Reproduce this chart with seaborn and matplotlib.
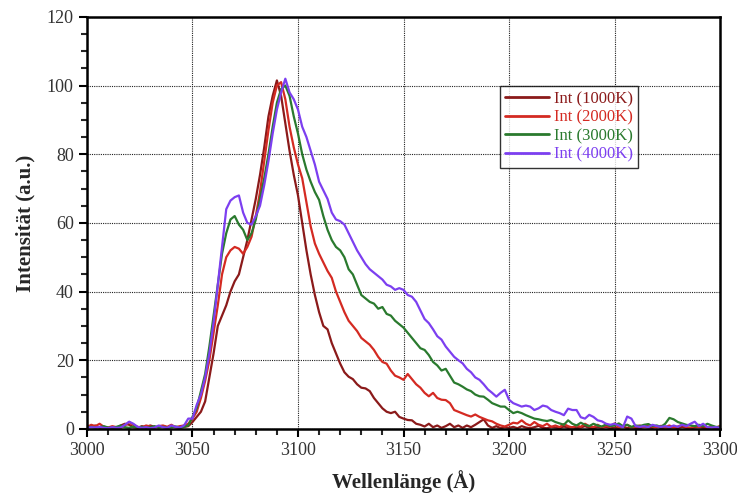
import numpy as np
import pandas as pd
import matplotlib
matplotlib.use("Agg")
import matplotlib.pyplot as plt
from matplotlib.ticker import MultipleLocator
import seaborn as sns

# Wavelength sampling (Å), 2 Å steps from 3000 to 3300
wavelength = np.arange(3000, 3301, 2)

int_1000k = [
    1.0, 0.5, 1.0, 0.3, 0.5, 0.2, 0.4, 0.3, 1.0, 1.5, 1.2, 0.5, 0.3, 0.8, 0.5, 1.0, 0.6, 0.4, 0.8, 0.5,
    0.7, 0.5, 0.3, 0.6, 0.8,
    2.0, 3.5, 5.0, 8.0, 15.0, 22.0, 30.0, 33.0, 36.0, 40.0, 43.0, 45.0, 50.0, 55.0, 61.0, 67.0, 74.0,
    82.0, 91.0, 97.0, 101.5, 97.0, 89.0, 81.0, 74.0, 68.0, 60.0, 52.0, 45.0, 39.0, 34.0, 30.0, 29.0,
    25.0, 22.0, 19.0, 16.5, 15.2, 14.5, 13.0, 12.0, 11.8, 11.0, 9.0, 7.5, 6.0, 5.0, 4.6, 5.0, 3.5,
    3.0, 2.6, 2.5, 1.5, 1.2, 0.7, 1.5, 0.5, 1.0, 0.3, 0.8, 1.5, 0.5, 1.0, 0.3, 1.0, 0.5, 1.2, 2.0,
    2.8, 1.0, 0.3, 0.8, 0.2, 0.5,
    0.3, 0.6, 0.2, 0.8, 0.4, 0.2, 0.5, 0.9, 0.3, 0.2, 0.6, 0.4, 0.2, 0.7, 0.3, 0.5, 0.2, 0.4, 0.8,
    0.3, 0.2, 0.5, 0.3, 0.6, 0.2, 0.4, 0.3, 0.7, 0.2, 0.5, 0.3, 0.2, 0.6, 0.4, 0.3, 0.8, 0.2, 0.4,
    0.3, 0.5, 0.2, 0.6, 0.3, 0.2, 0.4, 0.5, 0.3, 0.2, 0.6, 0.3, 0.4,
]

int_2000k = [
    0.5, 1.2, 0.8, 1.5, 0.6, 0.4, 0.8, 0.5, 0.3, 1.0, 2.0, 1.2, 0.6, 0.4, 1.0, 0.7, 0.3, 0.8, 1.0, 0.6,
    1.2, 0.5, 0.8, 1.0, 1.5,
    3.0, 5.0, 9.0, 14.0, 20.0, 28.0, 36.0, 45.0, 50.0, 52.0, 53.0, 52.5, 51.0, 53.0, 56.0, 62.0, 69.0,
    78.0, 87.0, 95.0, 100.0, 101.0, 96.0, 88.0, 82.0, 77.0, 73.0, 66.0, 59.0, 54.0, 51.0, 48.5, 46.0,
    44.0, 40.0, 37.0, 34.0, 31.5, 30.0, 28.5, 26.5, 25.5, 24.5, 23.0, 21.0, 19.5, 19.0, 17.0, 15.5,
    15.0, 14.3, 16.0, 14.5, 13.0, 12.0, 10.5, 9.5, 10.5, 9.0, 8.5, 8.4, 7.5, 5.5, 5.0, 4.5, 4.0, 3.6,
    4.2, 3.5, 3.0, 2.5, 2.2, 1.5, 1.0, 0.7,
    1.2, 1.8, 1.6, 2.5, 1.5, 1.0, 2.0, 1.2, 0.8, 1.5, 0.6, 1.0, 0.5, 1.4, 0.8, 0.4, 1.0, 0.6, 1.5,
    0.8, 0.5, 1.2, 0.4, 0.9, 0.6, 1.6, 0.5, 0.8, 1.2, 0.4, 0.7, 1.0, 0.5, 1.3, 0.6, 0.4, 0.9, 0.5,
    1.0, 0.4, 0.7, 1.2, 0.5, 0.3, 0.8, 0.5, 1.0, 0.4, 0.6, 0.3, 0.9,
]

int_3000k = [
    0.4, 0.6, 0.3, 0.5, 0.8, 0.4, 0.3, 0.6, 1.0, 0.5, 0.3, 0.7, 0.4, 0.6, 0.3, 0.5, 0.8, 0.4, 0.6, 0.3,
    0.5, 0.7, 0.4, 0.6, 1.0,
    3.5, 6.0, 11.0, 16.0, 24.0, 33.0, 42.0, 51.0, 57.0, 61.0, 62.0, 59.5, 58.0, 55.0, 57.0, 61.0, 67.0,
    73.0, 80.0, 88.0, 95.0, 99.0, 100.0, 97.0, 91.0, 86.0, 80.0, 75.5, 72.0, 69.0, 66.7, 62.0, 58.0,
    55.0, 53.0, 52.0, 50.0, 46.5, 45.0, 42.0, 39.0, 38.0, 37.0, 36.5, 35.0, 35.5, 33.5, 33.0, 31.5,
    30.5, 29.5, 28.0, 26.5, 25.0, 23.5, 23.0, 21.5, 19.5, 18.5, 17.0, 17.5, 15.5, 13.5, 13.0, 12.3,
    11.5, 11.0, 10.0, 9.5, 9.4, 8.5, 7.5, 7.0, 6.5, 6.5,
    5.5, 4.6, 5.0, 4.6, 4.0, 3.5, 3.0, 2.8, 2.5, 2.3, 2.6, 2.0, 1.6, 1.2, 2.5, 1.5, 1.0, 1.8, 1.2,
    0.8, 1.5, 1.0, 0.7, 1.3, 0.8, 1.0, 1.6, 0.8, 1.2, 0.6, 1.0, 0.8, 1.2, 1.4, 0.8, 1.0, 0.6, 1.5,
    3.2, 2.8, 2.0, 1.6, 1.2, 1.0, 0.8, 1.2, 0.8, 1.5, 1.0, 0.6, 0.5,
]

int_4000k = [
    0.3, 0.5, 0.4, 0.6, 0.3, 0.2, 0.5, 0.3, 0.4, 1.2, 2.1, 1.5, 0.6, 0.3, 0.5, 0.2, 0.4, 1.0, 0.5, 0.3,
    1.0, 0.6, 0.4, 1.0, 3.0,
    3.0, 7.0, 10.0, 15.0, 22.0, 31.0, 42.0, 53.0, 64.0, 66.5, 67.5, 68.0, 63.0, 60.0, 59.5, 62.0, 65.0,
    71.0, 78.0, 86.0, 93.0, 98.0, 102.0, 98.0, 96.0, 93.0, 88.0, 85.0, 81.0, 77.0, 72.0, 69.5, 67.0,
    63.0, 61.0, 60.5, 59.5, 57.0, 54.5, 52.0, 50.0, 48.0, 46.5, 45.5, 44.5, 43.5, 42.0, 41.5, 40.5,
    41.0, 40.5, 39.0, 38.5, 37.0, 34.5, 32.0, 30.8, 29.0, 27.0, 26.0, 24.0, 22.5, 21.0, 20.0, 19.1,
    17.5, 16.5, 15.0, 14.3, 13.0, 11.5, 10.5, 9.4, 10.5, 11.4,
    8.5, 7.5, 7.0, 6.5, 6.8, 6.5, 5.5, 6.0, 6.8, 6.5, 5.5, 5.0, 4.6, 4.0, 5.9, 5.5, 5.5, 3.4, 3.0,
    4.1, 3.5, 2.5, 2.2, 1.5, 1.2, 1.5, 1.0, 0.5, 3.6, 3.0, 0.8, 0.6, 0.8, 0.5, 1.2, 0.8, 0.6, 0.8,
    0.5, 1.0, 0.6, 1.2, 0.8, 1.5, 2.1, 0.8, 1.5, 0.5, 0.4, 0.5, 0.3,
]

series_names = ["Int (1000K)", "Int (2000K)", "Int (3000K)", "Int (4000K)"]
series_colors = ["#8b1a1a", "#d42a22", "#2a7a2e", "#7c3ff0"]

df = pd.concat(
    [
        pd.DataFrame({"Wellenlänge": wavelength, "Intensität": vals, "Serie": name})
        for name, vals in zip(series_names, [int_1000k, int_2000k, int_3000k, int_4000k])
    ],
    ignore_index=True,
)

sns.set_style("white")
plt.rcParams["font.family"] = ["Liberation Serif", "DejaVu Serif"]

fig = plt.figure(figsize=(7.37, 4.97), dpi=100)
ax = fig.add_axes([0.118, 0.137, 0.859, 0.829])

sns.lineplot(
    data=df, x="Wellenlänge", y="Intensität", hue="Serie",
    palette=dict(zip(series_names, series_colors)),
    linewidth=1.6, ax=ax, estimator=None, sort=False,
)

ax.set_xlim(3000, 3300)
ax.set_ylim(0, 120)
ax.xaxis.set_major_locator(MultipleLocator(50))
ax.xaxis.set_minor_locator(MultipleLocator(10))
ax.yaxis.set_major_locator(MultipleLocator(20))
ax.yaxis.set_minor_locator(MultipleLocator(5))

ax.grid(True, which="major", color="#222222", linestyle=(0, (1, 1)), linewidth=0.8)
ax.set_axisbelow(True)

for side in ["left", "bottom", "top", "right"]:
    ax.spines[side].set_visible(True)
    ax.spines[side].set_color("black")
    ax.spines[side].set_linewidth(1.8)

ax.tick_params(axis="both", which="major", direction="out", length=6, width=1.5,
               labelsize=13, colors="black", labelcolor="#333333",
               bottom=True, left=True, top=False, right=False)
ax.tick_params(axis="both", which="minor", direction="out", length=4, width=1.5,
               bottom=True, left=True, top=False, right=False)

ax.set_xlabel("Wellenlänge (Å)", fontsize=15, fontweight="bold", labelpad=8)
ax.set_ylabel("Intensität (a.u.)", fontsize=15, fontweight="bold", labelpad=8)

leg = ax.legend(
    loc="upper left", bbox_to_anchor=(0.64, 0.852), frameon=True, fancybox=False,
    edgecolor="black", fontsize=12, handlelength=2.6, handletextpad=0.3,
    borderpad=0.3, labelspacing=0.15, title=None,
)
leg.get_frame().set_linewidth(1.0)
for text, color in zip(leg.get_texts(), series_colors):
    text.set_color(color)
for line in leg.get_lines():
    line.set_linewidth(2.0)

fig.savefig("out.png", dpi=100)
